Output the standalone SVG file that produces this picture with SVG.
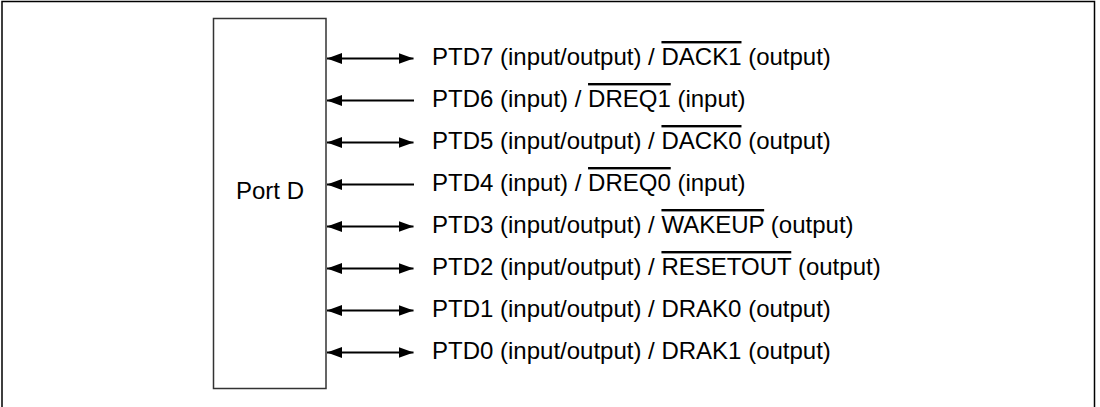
<svg xmlns="http://www.w3.org/2000/svg" width="1100" height="407" viewBox="0 0 1100 407">
<style>
.frame{fill:#fff;stroke:#000;stroke-width:1.5}
.box{fill:#fff;stroke:#333;stroke-width:1.5}
.t{font-family:"Liberation Sans",Arial,sans-serif;font-size:24px;fill:#000}
.ov{text-decoration:overline}
.c line{stroke:#000;stroke-width:1.8}
.bi{marker-start:url(#ah);marker-end:url(#ah)}
.in{marker-start:url(#ah)}
</style>
<defs>
<marker id="ah" markerUnits="userSpaceOnUse" markerWidth="16" markerHeight="12" refX="15" refY="5.5" orient="auto-start-reverse">
<path d="M0,0 L15,5.5 L0,11 z" fill="#000"/>
</marker>
</defs>
<rect class="frame" x="2" y="1.5" width="1092.5" height="420"/>
<g id="portD">
<rect class="box" x="213.5" y="18.5" width="112.5" height="370"/>
<text class="t" x="236" y="199">Port D</text>
</g>
<g id="connectors" class="c">
<line class="bi" x1="327" y1="58.5" x2="413.5" y2="58.5"/>
<line class="in" x1="327" y1="100.5" x2="414" y2="100.5"/>
<line class="bi" x1="327" y1="142.5" x2="413.5" y2="142.5"/>
<line class="in" x1="327" y1="184.5" x2="414" y2="184.5"/>
<line class="bi" x1="327" y1="226.5" x2="413.5" y2="226.5"/>
<line class="bi" x1="327" y1="268.5" x2="413.5" y2="268.5"/>
<line class="bi" x1="327" y1="310.5" x2="413.5" y2="310.5"/>
<line class="bi" x1="327" y1="352.5" x2="413.5" y2="352.5"/>
</g>
<g id="ptd7"><text class="t" x="432" y="65">PTD7 (input/output) / <tspan class="ov">DACK1</tspan> (output)</text></g>
<g id="ptd6"><text class="t" x="432" y="107">PTD6 (input) / <tspan class="ov">DREQ1</tspan> (input)</text></g>
<g id="ptd5"><text class="t" x="432" y="149">PTD5 (input/output) / <tspan class="ov">DACK0</tspan> (output)</text></g>
<g id="ptd4"><text class="t" x="432" y="191">PTD4 (input) / <tspan class="ov">DREQ0</tspan> (input)</text></g>
<g id="ptd3"><text class="t" x="432" y="233">PTD3 (input/output) / <tspan class="ov">WAKEUP</tspan> (output)</text></g>
<g id="ptd2"><text class="t" x="432" y="275">PTD2 (input/output) / <tspan class="ov">RESETOUT</tspan> (output)</text></g>
<g id="ptd1"><text class="t" x="432" y="317">PTD1 (input/output) / DRAK0 (output)</text></g>
<g id="ptd0"><text class="t" x="432" y="359">PTD0 (input/output) / DRAK1 (output)</text></g>
</svg>
